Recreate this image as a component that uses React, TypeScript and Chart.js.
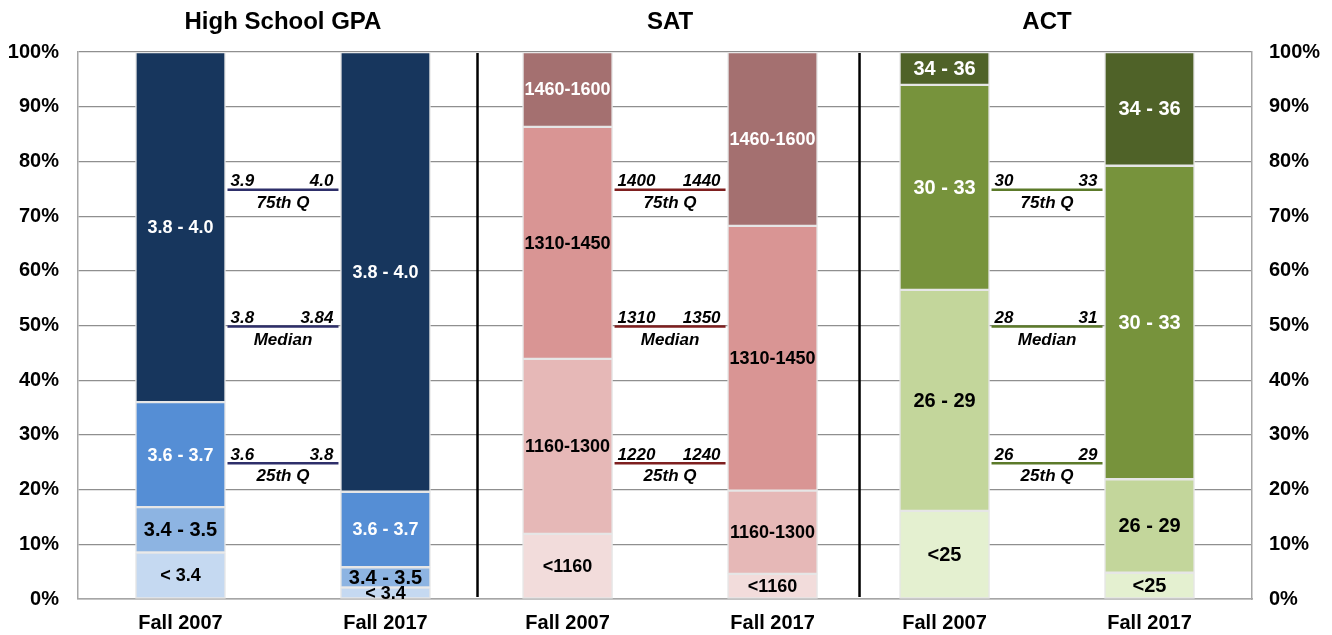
import React, { useEffect, useRef } from "react";
import { Chart, registerables } from "chart.js";

Chart.register(...registerables);

// ---------- data ----------
const groupTitles = ["High School GPA", "SAT", "ACT"];
const yearLabels = ["Fall 2007", "Fall 2017"];

const gpaBands = ["< 3.4", "3.4 - 3.5", "3.6 - 3.7", "3.8 - 4.0"];
const gpa2007 = [8.5, 8.3, 19.2, 64.0];
const gpa2017 = [2.1, 3.7, 13.8, 80.4];

const satBands = ["<1160", "1160-1300", "1310-1450", "1460-1600"];
const sat2007 = [11.9, 32.0, 42.4, 13.7];
const sat2017 = [4.6, 15.2, 48.4, 31.8];

const actBands = ["<25", "26 - 29", "30 - 33", "34 - 36"];
const act2007 = [16.1, 40.4, 37.5, 6.0];
const act2017 = [4.8, 17.1, 57.3, 20.8];

const quartileLevels = [25, 50, 75];
const quartileNames = ["25th Q", "Median", "75th Q"];
const gpaQuartile2007 = ["3.6", "3.8", "3.9"];
const gpaQuartile2017 = ["3.8", "3.84", "4.0"];
const satQuartile2007 = ["1220", "1310", "1400"];
const satQuartile2017 = ["1240", "1350", "1440"];
const actQuartile2007 = ["26", "28", "30"];
const actQuartile2017 = ["29", "31", "33"];

const yTicks = [0, 10, 20, 30, 40, 50, 60, 70, 80, 90, 100];

// ---------- layout / style ----------
const barSlots = [8.73, 26.19, 41.7, 59.16, 73.81, 91.27]; // x-axis units (0..100)
const BAR_W = 90;
const FONT = '"Liberation Sans", Arial, Helvetica, sans-serif';

const gpaColors = ["#C5D9F1", "#8DB4E2", "#558ED5", "#17365D"];
const satColors = ["#F2DCDB", "#E6B8B7", "#D99594", "#A47070"];
const actColors = ["#E4F0D0", "#C3D69B", "#77933C", "#4F6228"];
const gpaTextColors = ["#000", "#000", "#fff", "#fff"];
const satTextColors = ["#000", "#000", "#000", "#fff"];
const actTextColors = ["#000", "#000", "#fff", "#fff"];
const gpaTextSizes = [18, 20, 18, 18];
const satTextSizes = [18, 18, 18, 18];
const actTextSizes = [20, 20, 20, 20];
const quartileColors = ["#2E2F6A", "#7E1F1F", "#5C7A2A"];

const groupBands = [gpaBands, satBands, actBands];
const groupValues = [
  [gpa2007, gpa2017],
  [sat2007, sat2017],
  [act2007, act2017],
];
const groupColors = [gpaColors, satColors, actColors];
const groupTextColors = [gpaTextColors, satTextColors, actTextColors];
const groupTextSizes = [gpaTextSizes, satTextSizes, actTextSizes];
const groupQuartiles = [
  [gpaQuartile2007, gpaQuartile2017],
  [satQuartile2007, satQuartile2017],
  [actQuartile2007, actQuartile2017],
];

function buildDatasets() {
  const ds: any[] = [];
  groupTitles.forEach((_, g) => {
    groupBands[g].forEach((band, l) => {
      ds.push({
        label: band,
        data: [
          { x: barSlots[2 * g], y: groupValues[g][0][l] },
          { x: barSlots[2 * g + 1], y: groupValues[g][1][l] },
        ],
        backgroundColor: groupColors[g][l],
        borderColor: "#E6E6E6",
        borderWidth: 1.5,
        borderSkipped: false,
        barThickness: BAR_W,
        labelColor: groupTextColors[g][l],
        labelSize: groupTextSizes[g][l],
      });
    });
  });
  return ds;
}

const overlayPlugin = {
  id: "overlay",
  afterDatasetsDraw(chart: any) {
    const ctx = chart.ctx;
    const xs = chart.scales.x;
    const ys = chart.scales.y;
    const area = chart.chartArea;
    ctx.save();

    // group separators
    ctx.strokeStyle = "#000";
    ctx.lineWidth = 2.5;
    for (let g = 0; g < groupTitles.length - 1; g++) {
      const v = (barSlots[2 * g + 1] + barSlots[2 * g + 2]) / 2;
      const px = xs.getPixelForValue(v) + 1;
      ctx.beginPath();
      ctx.moveTo(px, area.top + 1);
      ctx.lineTo(px, area.bottom - 2);
      ctx.stroke();
    }

    // segment labels
    ctx.textAlign = "center";
    ctx.textBaseline = "middle";
    chart.data.datasets.forEach((ds: any, i: number) => {
      const meta = chart.getDatasetMeta(i);
      meta.data.forEach((el: any) => {
        const cy = (el.y + el.base) / 2;
        ctx.font = `bold ${ds.labelSize}px ${FONT}`;
        ctx.fillStyle = ds.labelColor;
        ctx.fillText(ds.label, el.x, cy + 1);
      });
    });

    // quartile markers
    groupTitles.forEach((_, g) => {
      const left = xs.getPixelForValue(barSlots[2 * g]) + BAR_W / 2 + 2;
      const right = xs.getPixelForValue(barSlots[2 * g + 1]) - BAR_W / 2 - 2;
      quartileLevels.forEach((lvl, q) => {
        const py = ys.getPixelForValue(lvl) + 1;
        ctx.strokeStyle = quartileColors[g];
        ctx.lineWidth = 2.5;
        ctx.beginPath();
        ctx.moveTo(left, py);
        ctx.lineTo(right, py);
        ctx.stroke();
        ctx.fillStyle = "#000";
        ctx.font = `italic bold 17px ${FONT}`;
        ctx.textBaseline = "alphabetic";
        ctx.textAlign = "left";
        ctx.fillText(groupQuartiles[g][0][q], left + 3, py - 3.5);
        ctx.textAlign = "right";
        ctx.fillText(groupQuartiles[g][1][q], right - 5, py - 3.5);
        ctx.textAlign = "center";
        ctx.fillText(quartileNames[q], (left + right) / 2, py + 18);
      });
    });

    // group titles
    ctx.fillStyle = "#000";
    ctx.font = `bold 24px ${FONT}`;
    ctx.textAlign = "center";
    ctx.textBaseline = "alphabetic";
    groupTitles.forEach((t, g) => {
      const cx =
        (xs.getPixelForValue(barSlots[2 * g]) + xs.getPixelForValue(barSlots[2 * g + 1])) / 2;
      ctx.fillText(t, cx, 28.5);
    });
    ctx.restore();
  },
};

export default function App() {
  const ref = useRef<HTMLCanvasElement | null>(null);
  useEffect(() => {
    if (!ref.current) return;
    const chart = new Chart(ref.current, {
      type: "bar",
      data: { datasets: buildDatasets() },
      options: {
        animation: false,
        responsive: false,
        devicePixelRatio: 1,
        layout: { padding: { top: 52, left: 0, right: 0, bottom: 0 } },
        plugins: { legend: { display: false }, tooltip: { enabled: false } },
        scales: {
          x: {
            type: "linear",
            min: 0,
            max: 100,
            offset: false,
            stacked: true,
            grid: { display: false, drawTicks: false, offset: false },
            border: { display: true, color: "#A6A6A6", width: 1.5 },
            afterBuildTicks: (scale: any) => {
              scale.ticks = barSlots.map((v) => ({ value: v }));
            },
            afterFit: (scale: any) => {
              scale.height = 36;
            },
            ticks: {
              autoSkip: false,
              maxRotation: 0,
              padding: 12,
              color: "#000",
              font: { family: FONT, size: 20, weight: "bold" },
              callback: (_v: any, i: number) => yearLabels[i % 2],
            },
          },
          y: {
            type: "linear",
            position: "left",
            min: 0,
            max: 100,
            stacked: true,
            afterBuildTicks: (scale: any) => {
              scale.ticks = yTicks.map((v) => ({ value: v }));
            },
            afterFit: (scale: any) => {
              scale.width = 78;
            },
            grid: { color: "#8F8F8F", lineWidth: 1.2, drawTicks: false },
            border: { display: true, color: "#A6A6A6", width: 1.5 },
            ticks: {
              padding: 19,
              color: "#000",
              font: { family: FONT, size: 20, weight: "bold" },
              callback: (v: any) => v + "%",
            },
          },
          y2: {
            type: "linear",
            position: "right",
            min: 0,
            max: 100,
            afterBuildTicks: (scale: any) => {
              scale.ticks = yTicks.map((v) => ({ value: v }));
            },
            afterFit: (scale: any) => {
              scale.width = 80;
            },
            grid: { display: false, drawTicks: false },
            border: { display: true, color: "#A6A6A6", width: 1.5 },
            ticks: {
              padding: 17,
              color: "#000",
              font: { family: FONT, size: 20, weight: "bold" },
              callback: (v: any) => v + "%",
            },
          },
        },
      } as any,
      plugins: [overlayPlugin],
    });
    return () => chart.destroy();
  }, []);

  return (
    <div style={{ position: "absolute", left: 0, top: 0, width: 1332, height: 635, background: "#fff" }}>
      <canvas ref={ref} width={1332} height={635} style={{ display: "block" }} />
    </div>
  );
}
